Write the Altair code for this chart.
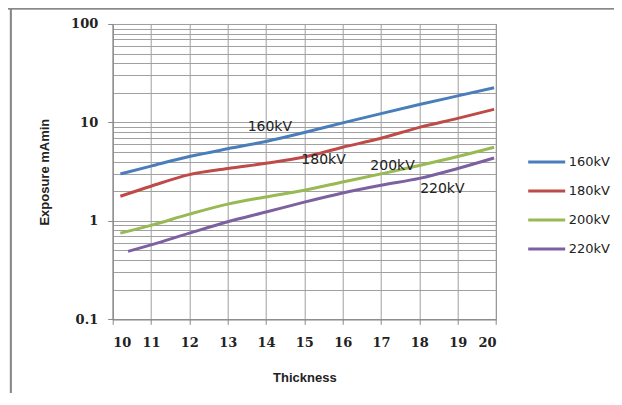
import altair as alt
import pandas as pd

thick_160 = [10.2, 11, 12, 13, 14, 15, 16, 17, 18, 19, 19.95]
exp_160 = [3.0, 3.6, 4.5, 5.4, 6.4, 7.9, 9.9, 12.3, 15.2, 18.6, 22.5]
thick_180 = [10.2, 11, 12, 13, 14, 15, 16, 17, 18, 19, 19.95]
exp_180 = [1.78, 2.25, 2.95, 3.4, 3.85, 4.45, 5.6, 6.9, 8.9, 11.0, 13.6]
thick_200 = [10.2, 11, 12, 13, 14, 15, 16, 17, 18, 19, 19.95]
exp_200 = [0.75, 0.9, 1.17, 1.48, 1.75, 2.05, 2.48, 3.0, 3.65, 4.5, 5.6]
thick_220 = [10.4, 11, 12, 13, 14, 15, 16, 17, 18, 19, 19.95]
exp_220 = [0.49, 0.57, 0.75, 0.98, 1.23, 1.55, 1.92, 2.3, 2.7, 3.4, 4.35]

series = ["160kV", "180kV", "200kV", "220kV"]
colors = ["#4a7ebb", "#be4b48", "#98b954", "#7d60a0"]

note_text = ["160kV", "180kV", "200kV", "220kV"]
note_x = [14.1, 15.5, 17.3, 18.6]
note_y = [8.9, 4.2, 3.6, 2.1]

x_ticks = list(range(10, 21))
y_grid = [m * 10 ** e for e in (-1, 0, 1) for m in range(1, 10)] + [100]

rows = []
for name, xs, ys in zip(series,
                        [thick_160, thick_180, thick_200, thick_220],
                        [exp_160, exp_180, exp_200, exp_220]):
    for i, (a, b) in enumerate(zip(xs, ys)):
        rows.append({"Thickness": a, "Exposure": b, "Series": name, "order": i})
df = pd.DataFrame(rows)
notes = pd.DataFrame({"text": note_text, "x": note_x, "y": note_y})

TICK_FONT = "DejaVu Serif"
TITLE_FONT = "Liberation Sans"
TEXT_FONT = "DejaVu Sans"
W, H = 383.3, 295.3

decade_test = "abs(log(datum.value)/LN10 - round(log(datum.value)/LN10)) < 0.000001"

x_scale = alt.Scale(domain=[10, 20], nice=False, zero=False)
y_scale = alt.Scale(type="log", domain=[0.1, 100], nice=False)

x_axis = alt.Axis(values=x_ticks, title="Thickness", format="d", labelOverlap=False,
                  labelFontSize=13, labelFontWeight="bold", labelFont=TICK_FONT,
                  labelColor="#222222", labelPadding=12, tickSize=5,
                  tickColor="#888888", domainColor="#888888",
                  gridColor="#a0a0a0", titleFont=TITLE_FONT, titleFontSize=13,
                  titleFontWeight="bold", titleColor="#222222",
                  titleY=58, titleBaseline="middle")
y_axis = alt.Axis(values=y_grid, title="Exposure mAmin", labelOverlap=False,
                  labelExpr=f"({decade_test}) ? datum.label : ''",
                  tickOpacity={"condition": {"test": decade_test, "value": 1}, "value": 0},
                  labelFontSize=13, labelFontWeight="bold", labelFont=TICK_FONT,
                  labelColor="#222222", labelPadding=10, tickSize=5,
                  tickColor="#888888", domainColor="#888888",
                  gridColor="#a0a0a0", titleFont=TITLE_FONT, titleFontSize=13,
                  titleFontWeight="bold", titleColor="#222222",
                  titleX=-68, titleY=H / 2, titleBaseline="middle")

lines = alt.Chart(df).mark_line(strokeWidth=3, interpolate="monotone").encode(
    x=alt.X("Thickness:Q", scale=x_scale, axis=x_axis),
    y=alt.Y("Exposure:Q", scale=y_scale, axis=y_axis),
    color=alt.Color("Series:N", scale=alt.Scale(domain=series, range=colors),
                    legend=alt.Legend(title=None, orient="none", legendX=414, legendY=118,
                                      symbolType="stroke", symbolSize=1369,
                                      symbolStrokeWidth=3, labelFontSize=13,
                                      labelFont=TEXT_FONT, labelColor="#222222",
                                      labelOffset=2, rowPadding=2)),
    order="order:Q",
)

labels = alt.Chart(notes).mark_text(fontSize=14, font=TEXT_FONT, color="#222222").encode(
    x=alt.X("x:Q", scale=x_scale, axis=x_axis),
    y=alt.Y("y:Q", scale=y_scale, axis=y_axis),
    text="text:N",
)

top_border = alt.Chart(notes).mark_rule(color="#888888", strokeWidth=1.5).encode(
    x=alt.value(-110), x2=alt.value(W + 130), y=alt.value(-15.5))
left_border = alt.Chart(notes).mark_rule(color="#888888", strokeWidth=1.5).encode(
    x=alt.value(-102), y=alt.value(-16), y2=alt.value(H + 90))

chart = alt.layer(lines, labels, top_border, left_border).properties(
    width=W, height=H,
    autosize=alt.AutoSizeParams(type="none"),
    padding={"left": 104.7, "top": 16, "right": 118, "bottom": 74},
    background="white",
).configure_view(stroke="#888888")

chart.save("out.html", embed_options={"renderer": "svg", "actions": False})
